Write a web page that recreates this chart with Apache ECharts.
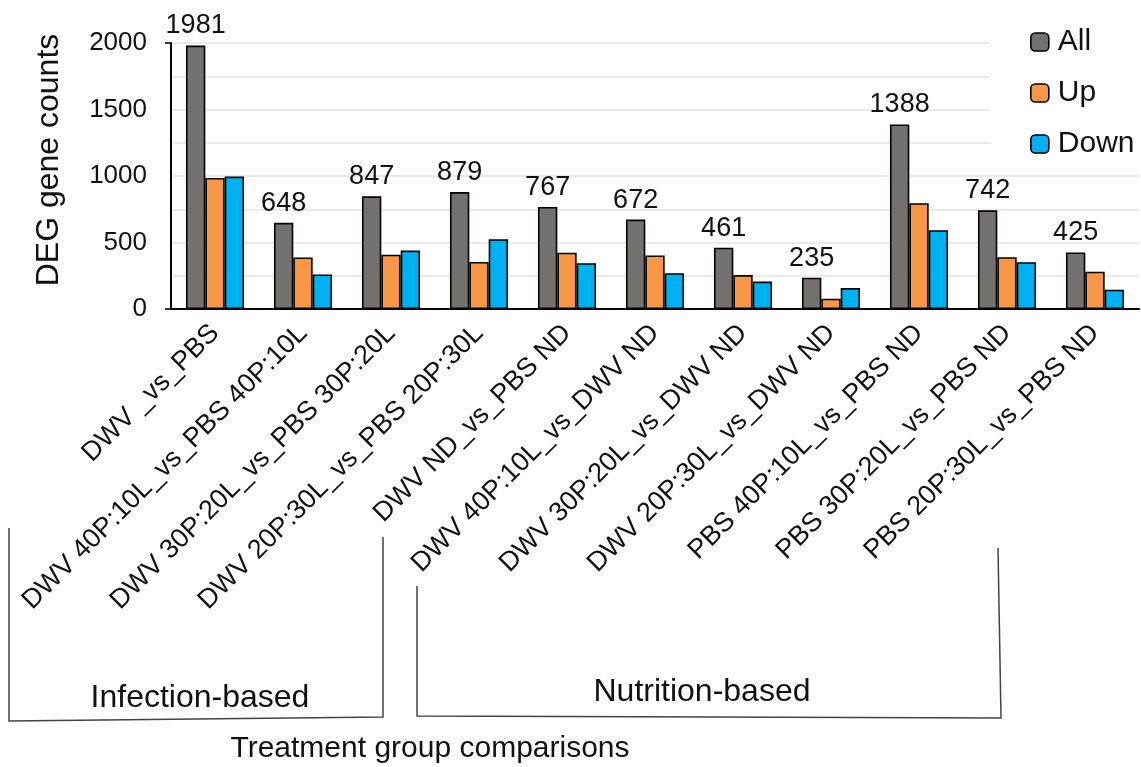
<!DOCTYPE html>
<html>
<head>
<meta charset="utf-8">
<title>DEG gene counts</title>
<script src="https://cdn.jsdelivr.net/npm/echarts@6/dist/echarts.min.js"></script>
<style>
  html, body { margin: 0; padding: 0; background: #fff; }
  #chart { width: 1141px; height: 767px; }
</style>
</head>
<body>
<div id="chart"></div>
<script>
// Treatment group comparisons
const categories = [
  'DWV _vs_PBS',
  'DWV 40P:10L_vs_PBS 40P:10L',
  'DWV 30P:20L_vs_PBS 30P:20L',
  'DWV 20P:30L_vs_PBS 20P:30L',
  'DWV ND_vs_PBS ND',
  'DWV 40P:10L_vs_DWV ND',
  'DWV 30P:20L_vs_DWV ND',
  'DWV 20P:30L_vs_DWV ND',
  'PBS 40P:10L_vs_PBS ND',
  'PBS 30P:20L_vs_PBS ND',
  'PBS 20P:30L_vs_PBS ND'
];

// Differentially expressed gene counts per comparison
const allCounts  = [1981, 648, 847, 879, 767, 672, 461, 235, 1388, 742, 425];
const upCounts   = [ 985, 388, 408, 354, 423, 403, 255,  78,  795, 390, 280];
const downCounts = [ 996, 260, 439, 525, 344, 269, 206, 157,  593, 352, 145];

const seriesNames = ['All', 'Up', 'Down'];
const yTicks = [0, 500, 1000, 1500, 2000];

const FONT = '"Liberation Sans", Arial, sans-serif';
const colors = ['#767171', '#F79646', '#00B0F0'];

const chart = echarts.init(document.getElementById('chart'), null, { renderer: 'canvas' });

function barSeries(name, data, color, withLabel) {
  return {
    name: name,
    type: 'bar',
    data: data,
    barGap: '0%',
    barCategoryGap: '34%',
    itemStyle: { color: color, borderColor: '#000', borderWidth: 1.6 },
    label: withLabel ? {
      show: true,
      position: 'top',
      distance: 6,
      fontSize: 27,
      fontFamily: FONT,
      color: '#111'
    } : { show: false },
    emphasis: { disabled: true }
  };
}

chart.setOption({
  animation: false,
  backgroundColor: '#fff',
  textStyle: { fontFamily: FONT },
  grid: { left: 171, right: 2, top: 43, bottom: 458, containLabel: false },
  legend: {
    data: seriesNames,
    orient: 'vertical',
    left: 990,
    top: 12,
    padding: [15, 6, 6, 40],
    backgroundColor: '#fff',
    itemWidth: 18,
    itemHeight: 18,
    itemGap: 21,
    textStyle: { fontSize: 30, fontFamily: FONT, color: '#111', padding: [0, 0, 0, 4] },
    itemStyle: { borderColor: '#000', borderWidth: 1.6 }
  },
  xAxis: {
    type: 'category',
    data: categories,
    axisLine: { lineStyle: { color: '#000', width: 2 } },
    axisTick: { alignWithLabel: true, length: 6, lineStyle: { color: '#000', width: 1.5 } },
    axisLabel: {
      interval: 0,
      rotate: 45,
      margin: 20,
      fontSize: 27,
      fontFamily: FONT,
      color: '#111'
    },
    splitLine: { show: false }
  },
  yAxis: [
    {
      type: 'value',
      min: 0,
      max: 2000,
      interval: 250,
      name: 'DEG gene counts',
      nameLocation: 'middle',
      nameGap: 106,
      nameRotate: 90,
      nameTextStyle: { fontSize: 32, fontFamily: FONT, color: '#111', padding: [0, 0, 0, 32] },
      axisLine: { show: true, lineStyle: { color: '#000', width: 2 } },
      axisTick: { show: false },
      axisLabel: {
        margin: 24,
        fontSize: 26,
        fontFamily: FONT,
        color: '#111',
        formatter: function (v) { return yTicks.indexOf(v) >= 0 ? String(v) : ''; }
      },
      splitLine: { show: true, lineStyle: { color: '#E3E3E3', width: 1.5 } }
    },
    {
      // outer tick marks at the ends of the value axis
      type: 'value',
      min: 0,
      max: 2000,
      interval: 2000,
      position: 'left',
      axisLine: { show: false },
      axisTick: { show: true, length: 6, lineStyle: { color: '#000', width: 1.5 } },
      axisLabel: { show: false },
      splitLine: { show: false }
    }
  ],
  series: [
    barSeries(seriesNames[0], allCounts, colors[0], true),
    barSeries(seriesNames[1], upCounts, colors[1], false),
    barSeries(seriesNames[2], downCounts, colors[2], false)
  ],
  graphic: [
    {
      type: 'polyline',
      shape: { points: [[9, 528], [9, 721], [383, 717], [383, 537]] },
      style: { stroke: '#444', lineWidth: 1.5, fill: null }
    },
    {
      type: 'polyline',
      shape: { points: [[417, 586], [417, 716], [1001, 718], [998, 548]] },
      style: { stroke: '#444', lineWidth: 1.5, fill: null }
    },
    {
      type: 'text',
      x: 200, y: 698,
      style: { text: 'Infection-based', fontSize: 32, fontFamily: FONT, fill: '#111', align: 'center', verticalAlign: 'middle' }
    },
    {
      type: 'text',
      x: 702, y: 692,
      style: { text: 'Nutrition-based', fontSize: 32, fontFamily: FONT, fill: '#111', align: 'center', verticalAlign: 'middle' }
    },
    {
      type: 'text',
      x: 430, y: 749,
      style: { text: 'Treatment group comparisons', fontSize: 30, fontFamily: FONT, fill: '#111', align: 'center', verticalAlign: 'middle' }
    }
  ]
});
</script>
</body>
</html>
